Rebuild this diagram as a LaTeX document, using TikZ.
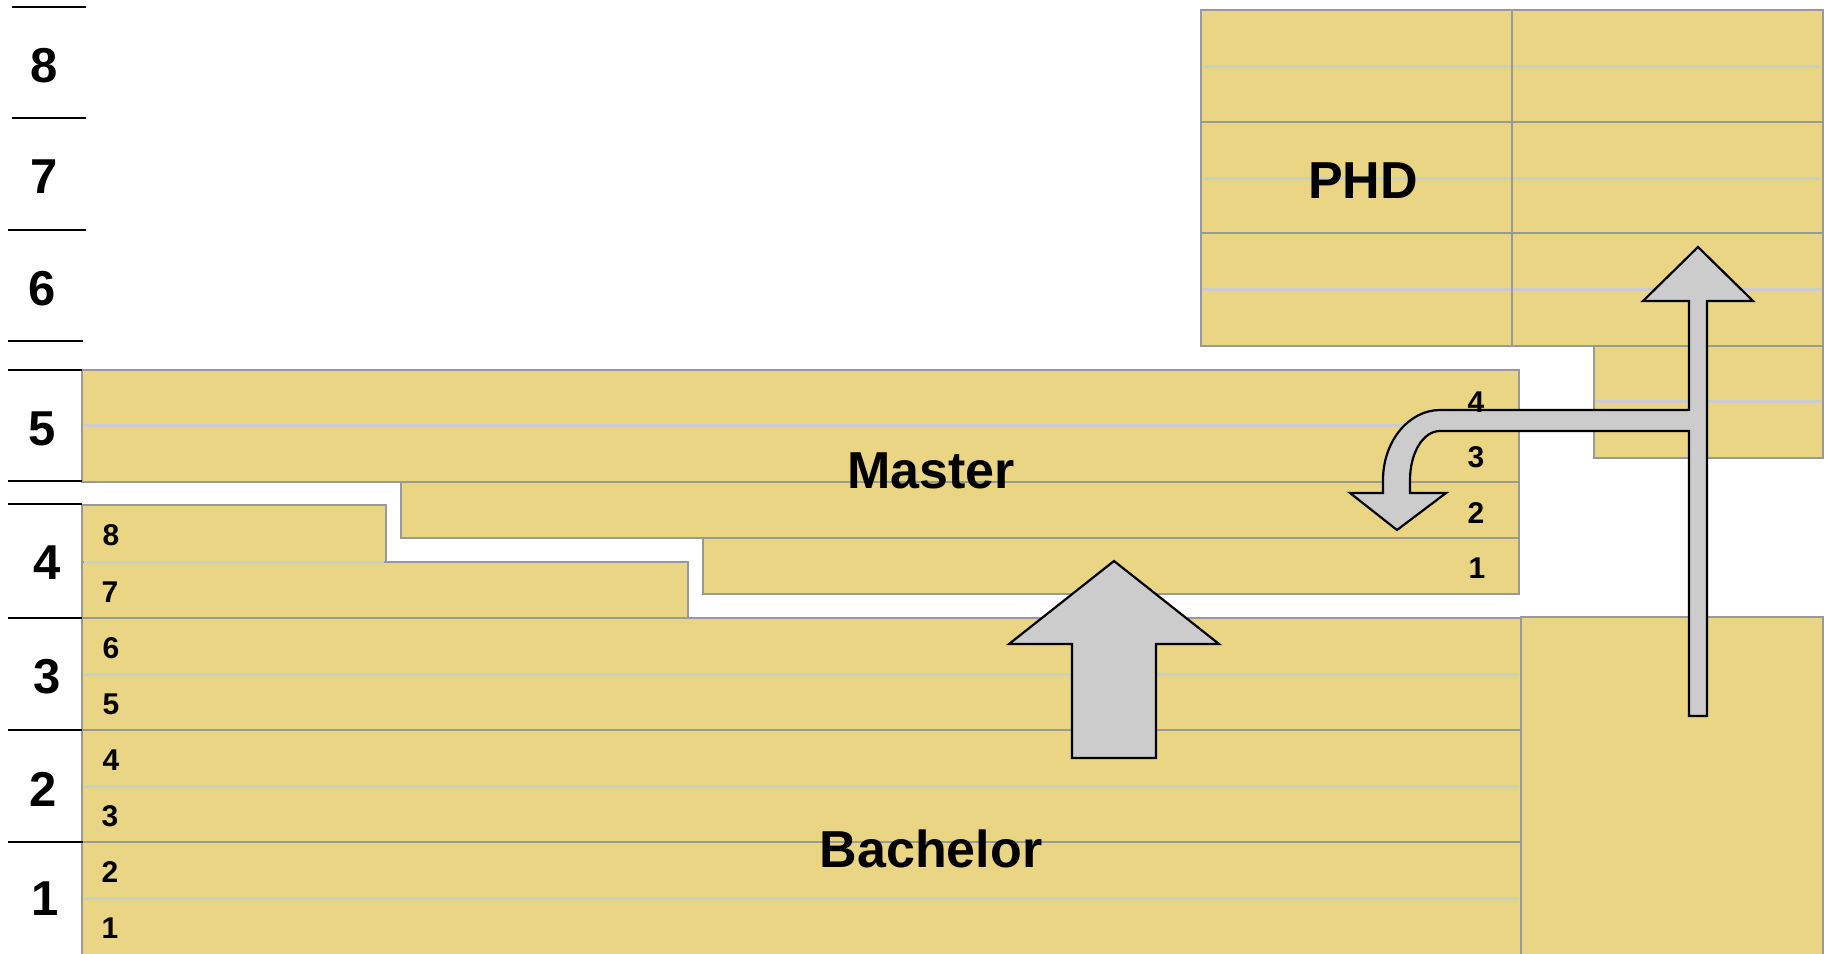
\documentclass[tikz,border=0pt]{standalone}
\usepackage{fontspec}
\setmainfont{Liberation Sans}
\definecolor{yel}{RGB}{233,213,132}
\definecolor{bord}{RGB}{153,153,153}
\definecolor{lightg}{RGB}{204,204,204}
\definecolor{arrg}{RGB}{204,204,204}
\begin{document}
\begin{tikzpicture}[x=1pt,y=-1pt,
  blk/.style={fill=yel,draw=bord,line width=1.5pt},
  semline/.style={draw=lightg,line width=3pt},
  tickline/.style={draw=black,line width=2.7pt},
  barrow/.style={fill=arrg,draw=black,line width=2.2pt,line join=miter},
  bignum/.style={font=\fontsize{49}{49}\selectfont\bfseries,inner sep=0pt},
  smallnum/.style={font=\fontsize{30}{30}\selectfont\bfseries,inner sep=0pt},
  titletext/.style={font=\fontsize{52}{52}\selectfont\bfseries,inner sep=0pt}]
\useasboundingbox (0,0) rectangle (1828,953);
\clip (0,0) rectangle (1828,953);

% ---------- Bachelor ----------
\path[blk] (82,842) rectangle (1521,965);
\path[blk] (82,730) rectangle (1521,842);
\path[blk] (82,618) rectangle (1521,730);
\path[blk] (82,562) rectangle (688,618);
\path[blk] (82,505) rectangle (386,562);
\draw[semline] (84,898) -- (1519,898);
\draw[semline] (84,786) -- (1519,786);
\draw[semline] (84,674) -- (1519,674);
\draw[semline] (84,562) -- (384,562);

% ---------- Master ----------
\path[blk] (82,370) rectangle (1519,482);
\path[blk] (401,482) rectangle (1519,538);
\path[blk] (703,538) rectangle (1519,594);
\draw[semline] (84,425) -- (1517,425);

% ---------- PHD ----------
\path[blk] (1201,10) rectangle (1823,346);
\draw[semline] (1203,66) -- (1821,66);
\draw[semline] (1203,178) -- (1821,178);
\draw[semline] (1203,289) -- (1821,289);
\draw[draw=bord,line width=1.5pt] (1201,122) -- (1823,122);
\draw[draw=bord,line width=1.5pt] (1201,233) -- (1823,233);
\draw[draw=bord,line width=1.5pt] (1512,10) -- (1512,346);
\path[blk] (1594,346) rectangle (1823,458);
\draw[semline] (1596,401) -- (1821,401);

% ---------- right block ----------
\path[blk] (1521,617) rectangle (1823,965);

% ---------- axis ticks ----------
\draw[tickline] (12,7) -- (86,7);
\draw[tickline] (12,118) -- (86,118);
\draw[tickline] (8,230) -- (86,230);
\draw[tickline] (8,341) -- (83,341);
\draw[tickline] (8,370) -- (82,370);
\draw[tickline] (8,481) -- (82,481);
\draw[tickline] (8,504) -- (82,504);
\draw[tickline] (8,618) -- (82,618);
\draw[tickline] (8,730) -- (82,730);
\draw[tickline] (8,842) -- (83,842);

% ---------- arrows ----------
\draw[barrow] (1072,758) -- (1072,644) -- (1009,644) -- (1114,561)
  -- (1219,644) -- (1156,644) -- (1156,758) -- cycle;
\draw[barrow] (1689,716) -- (1689,431) -- (1440,431)
  .. controls (1423,431) and (1410,453) .. (1410,480)
  -- (1410,493) -- (1446,493) -- (1397,530) -- (1350,493) -- (1383,493)
  -- (1383,480) .. controls (1383,441) and (1409,410) .. (1440,410)
  -- (1689,410) -- (1689,301) -- (1643,301) -- (1698,247) -- (1753,301)
  -- (1707,301) -- (1707,716) -- cycle;

% ---------- axis labels ----------
\node[bignum] (y8) at (44,66) {8};
\node[bignum] (y7) at (44,177) {7};
\node[bignum] (y6) at (42,289) {6};
\node[bignum] (y5) at (42,429) {5};
\node[bignum] (y4) at (47,563) {4};
\node[bignum] (y3) at (47,677) {3};
\node[bignum] (y2) at (43,789) {2};
\node[bignum] (y1) at (45,899) {1};

% ---------- semester labels ----------
\node[smallnum] (b8) at (111,535) {8};
\node[smallnum] (b7) at (110,592) {7};
\node[smallnum] (b6) at (111,648) {6};
\node[smallnum] (b5) at (111,704) {5};
\node[smallnum] (b4) at (111,760) {4};
\node[smallnum] (b3) at (110,816) {3};
\node[smallnum] (b2) at (110,872) {2};
\node[smallnum] (b1) at (110,928) {1};
\node[smallnum] (m4) at (1476,402) {4};
\node[smallnum] (m3) at (1476,457) {3};
\node[smallnum] (m2) at (1476,513) {2};
\node[smallnum] (m1) at (1477,568) {1};

% ---------- titles ----------
\node[titletext] (master) at (931,471) {Master};
\node[titletext] (bachelor) at (931,849) {Bachelor};
\node[titletext] (phd) at (1363,181) {PHD};
\end{tikzpicture}
\end{document}
